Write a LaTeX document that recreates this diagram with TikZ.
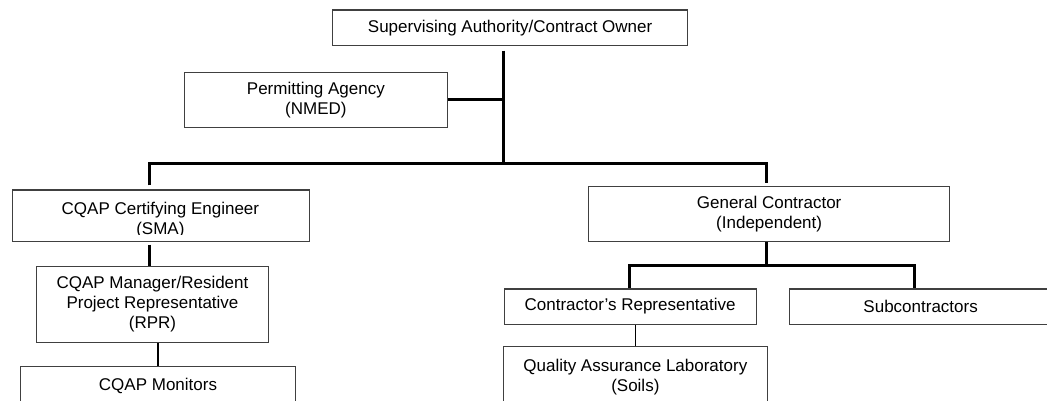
\documentclass[tikz,border=0pt]{standalone}
\usepackage{fontspec}
\setmainfont{Liberation Sans}
\usetikzlibrary{calc}
\definecolor{boxgray}{HTML}{404040}
\begin{document}
\begin{tikzpicture}[x=1pt,y=-1pt,
  box/.style={draw=boxgray, line width=1.3pt, inner sep=0pt, align=center,
    font=\fontsize{17}{20}\selectfont, anchor=north west},
  txt/.style={inner sep=0pt, align=center, font=\fontsize{17}{20}\selectfont},
  heavy/.style={line width=3pt, black},
  light/.style={line width=1.6pt, black}]
\useasboundingbox (0,0) rectangle (1047,400);
\clip (0,0) rectangle (1047,400);

% boxes
\node[box, minimum width=355pt, minimum height=35.7pt] (top) at (332,9.3) {Supervising Authority/Contract Owner};
\node[box, minimum width=263.5pt, minimum height=55.5pt] (perm) at (183.5,71.5) {Permitting Agency\\(NMED)};
\node[box, minimum width=297.3pt, minimum height=51.4pt] (cert) at (11.7,189.3) {};
\begin{scope}
  \clip (cert.north west) rectangle ($(cert.south east)+(0,-7.5)$);
  \node[txt] (certtxt) at (160.4,219.6) {CQAP Certifying Engineer\\(SMA)};
\end{scope}
\node[box, minimum width=231.7pt, minimum height=76pt] (mgr) at (36,265.7) {CQAP Manager/Resident\\Project Representative\\(RPR)};
\node[box, minimum width=274.7pt, minimum height=38pt] (mon) at (20,366) {CQAP Monitors};
\node[box, minimum width=361pt, minimum height=55pt] (gc) at (588,186) {General Contractor\\(Independent)};
\node[box, minimum width=252pt, minimum height=35.2pt] (cr) at (503.5,288.3) {Contractor’s Representative};
\node[box, minimum width=262pt, minimum height=35.7pt] (sub) at (789,288.3) {Subcontractors};
\node[box, minimum width=264pt, minimum height=60pt] (qal) at (502.7,346) {Quality Assurance Laboratory\\(Soils)};

% junctions
\coordinate (b0) at (503,163.5);
\coordinate (bl) at (149,163.5);
\coordinate (br) at (766,163.5);
\coordinate (sbl) at (629,265);
\coordinate (sbr) at (914,265);

% connectors
\draw[heavy] ($(top.south -| b0)+(0,4.3)$) -- (b0);
\draw[heavy] (perm.east) -- (perm.east -| b0);
\draw[heavy] ($(cert.north -| bl)+(0,-4)$) -- (bl) -- (br) -- ($(gc.north -| br)+(0,-3)$);
\draw[heavy] ($(cert.south -| bl)+(0,2.6)$) -- (mgr.north -| bl);
\draw[light] (mon.north) -- (mon.north |- mgr.south);
\draw[heavy] (gc.south -| br) -- (br |- sbl);
\draw[heavy] (cr.north -| sbl) -- (sbl) -- (sbr) -- (sub.north -| sbr);
\draw[light] (qal.north) -- (qal.north |- cr.south);
\end{tikzpicture}
\end{document}
